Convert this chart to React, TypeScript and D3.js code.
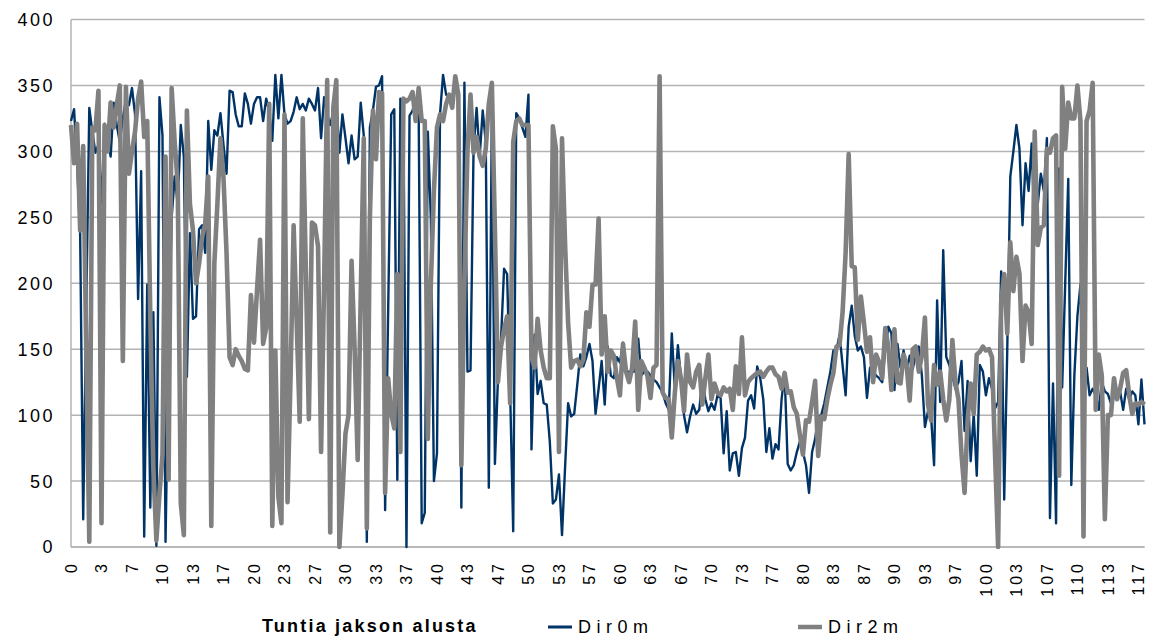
import React from 'react';
import * as d3 from 'd3';

// Dir0m (20-min steps, index 0..352)
const dir0m: number[] = [
  323, 332, 291, 238, 21, 180, 333, 315, 299, 305,
  260, 321, 310, 296, 337, 320, 307, 325, 339, 335,
  348, 328, 188, 285, 8, 199, 30, 178, 1, 341,
  312, 4, 150, 250, 281, 260, 320, 296, 129, 238,
  173, 175, 241, 244, 223, 323, 286, 316, 312, 329,
  305, 283, 346, 345, 328, 319, 319, 344, 336, 321,
  336, 341, 341, 323, 340, 330, 308, 358, 325, 358,
  328, 321, 323, 330, 341, 332, 336, 331, 340, 336,
  331, 348, 310, 341, 328, 320, 330, 340, 299, 328,
  310, 291, 312, 294, 296, 337, 312, 4, 318, 331,
  349, 350, 357, 28, 180, 328, 332, 51, 340, 330,
  0, 327, 331, 340, 330, 18, 26, 315, 249, 50,
  71, 328, 358, 343, 341, 337, 356, 341, 30, 352,
  133, 134, 302, 333, 296, 331, 307, 45, 331, 63,
  128, 157, 211, 207, 117, 12, 329, 325, 318, 311,
  343, 74, 161, 116, 126, 109, 108, 80, 33, 36,
  55, 9, 60, 109, 99, 101, 123, 146, 137, 144,
  154, 141, 101, 120, 141, 108, 152, 130, 128, 144,
  140, 155, 133, 133, 133, 133, 158, 130, 133, 133,
  130, 127, 125, 121, 117, 109, 104, 162, 120, 153,
  128, 100, 87, 99, 108, 101, 104, 126, 112, 103,
  109, 104, 115, 113, 71, 103, 58, 71, 72, 54,
  75, 83, 111, 115, 105, 137, 128, 112, 72, 90,
  67, 78, 74, 112, 132, 63, 58, 62, 72, 80,
  72, 62, 41, 72, 82, 99, 100, 109, 121, 133,
  149, 149, 161, 138, 115, 167, 183, 160, 149, 152,
  144, 113, 136, 133, 130, 128, 125, 150, 167, 162,
  119, 154, 136, 149, 133, 145, 135, 146, 152, 130,
  91, 103, 100, 62, 187, 110, 225, 144, 138, 130,
  120, 125, 141, 88, 126, 65, 101, 54, 138, 133,
  115, 128, 120, 105, 110, 209, 36, 150, 281, 300,
  320, 302, 244, 291, 270, 306, 236, 260, 283, 270,
  310, 22, 124, 18, 287, 121, 200, 279, 47, 130,
  175, 199, 130, 136, 115, 120, 115, 104, 125, 118,
  116, 109, 115, 112, 118, 104, 120, 112, 118, 115,
  93, 127, 93,
];

// Dir2m (same time steps)
const dir2m: number[] = [
  320, 291, 321, 240, 304, 150, 4, 318, 316, 346,
  18, 320, 300, 337, 318, 335, 350, 141, 349, 283,
  300, 315, 340, 353, 311, 323, 175, 60, 5, 40,
  70, 296, 51, 348, 307, 275, 33, 9, 331, 260,
  240, 200, 215, 235, 245, 281, 16, 215, 260, 310,
  280, 223, 144, 138, 150, 145, 141, 135, 134, 191,
  155, 195, 233, 154, 166, 336, 16, 149, 38, 18,
  328, 34, 130, 244, 170, 95, 325, 210, 97, 246,
  244, 228, 72, 200, 354, 11, 333, 354, 0, 40,
  86, 100, 217, 150, 66, 190, 310, 14, 250, 331,
  294, 345, 344, 41, 128, 101, 90, 207, 72, 340,
  338, 340, 345, 323, 348, 323, 323, 82, 200, 270,
  318, 328, 323, 336, 343, 333, 357, 343, 62, 200,
  300, 343, 299, 311, 296, 289, 302, 336, 352, 240,
  125, 152, 165, 175, 109, 307, 323, 325, 320, 320,
  320, 144, 136, 173, 149, 136, 128, 128, 319, 302,
  72, 310, 230, 170, 136, 141, 142, 137, 142, 178,
  167, 199, 199, 249, 146, 175, 133, 149, 145, 128,
  115, 154, 133, 125, 136, 171, 104, 141, 136, 130,
  113, 136, 138, 357, 117, 113, 112, 83, 117, 141,
  128, 103, 146, 125, 121, 133, 138, 108, 128, 146,
  112, 124, 117, 115, 121, 118, 120, 104, 137, 116,
  159, 115, 125, 128, 130, 132, 133, 129, 133, 136,
  136, 131, 129, 120, 132, 117, 118, 106, 101, 85,
  70, 96, 95, 110, 126, 69, 99, 97, 112, 123,
  132, 152, 153, 178, 223, 298, 213, 212, 157, 190,
  170, 148, 159, 125, 146, 140, 128, 166, 152, 119,
  165, 125, 124, 146, 138, 111, 150, 152, 133, 145,
  174, 108, 96, 138, 123, 133, 112, 96, 112, 157,
  125, 112, 70, 41, 96, 124, 101, 146, 148, 152,
  149, 150, 144, 70, 0, 186, 207, 162, 231, 194,
  220, 207, 141, 183, 178, 154, 315, 229, 242, 244,
  302, 299, 310, 312, 54, 349, 302, 337, 325, 325,
  350, 323, 8, 323, 331, 352, 104, 146, 130, 21,
  100, 100, 128, 112, 120, 132, 134, 115, 101, 109,
  108, 110, 108,
];

const xTickLabels: string[] = [
  '0', '3', '7', '10', '13', '17', '20', '23', '27', '30', '33', '37',
  '40', '43', '47', '50', '53', '57', '60', '63', '67', '70', '73', '77',
  '80', '83', '87', '90', '93', '97', '100', '103', '107', '110', '113', '117',
];
const yTicks: number[] = [0, 50, 100, 150, 200, 250, 300, 350, 400];
const seriesNames: string[] = ['Dir0m', 'Dir2m'];
const axisTitle = 'Tuntia jakson alusta';
const labelEvery = 10;

const NAVY = '#003366';
const GRAY = '#808080';
const GRID = '#b3b3b3';
const FONT = "'Liberation Sans', Arial, sans-serif";

export default function App() {
  const W = 1150;
  const H = 636;
  const n = Math.max(dir0m.length, dir2m.length);
  const x = d3.scaleLinear().domain([0, n - 1]).range([71, 1144.5]);
  const y = d3.scaleLinear().domain([0, 400]).range([547, 19.5]);
  const line = d3
    .line<number>()
    .x((_, i) => x(i))
    .y((d) => y(d));

  return (
    <svg
      width={W}
      height={H}
      style={{ position: 'absolute', left: 0, top: 0, background: '#fff' }}
      fontFamily={FONT}
    >
      {/* grid */}
      {yTicks.map((t) => (
        <line
          key={'g' + t}
          x1={x(0)}
          x2={x(n - 1)}
          y1={y(t)}
          y2={y(t)}
          stroke={GRID}
          strokeWidth={1.5}
        />
      ))}
      {/* axes */}
      <line x1={x(0)} x2={x(0)} y1={y(400)} y2={y(0)} stroke={GRID} strokeWidth={1.5} />
      <line x1={x(0)} x2={x(n - 1)} y1={y(0)} y2={y(0)} stroke={GRID} strokeWidth={1.5} />

      {/* y labels */}
      {yTicks.map((t) => (
        <text
          key={'yl' + t}
          x={55}
          y={y(t)}
          dy="0.36em"
          textAnchor="end"
          fontSize={18}
          letterSpacing={2.5}
          fill="#000"
        >
          {String(t)}
        </text>
      ))}

      {/* x labels */}
      {xTickLabels.map((lab, k) => {
        const xi = x(k * labelEvery);
        return (
          <text
            key={'xl' + k}
            transform={`translate(${xi},${561}) rotate(-90)`}
            textAnchor="end"
            dy="0.36em"
            fontSize={16}
            letterSpacing={3}
            fill="#000"
          >
            {lab}
          </text>
        );
      })}

      {/* series */}
      <path
        d={line(dir0m) || ''}
        fill="none"
        stroke={NAVY}
        strokeWidth={2.4}
        strokeLinejoin="round"
      />
      <path
        d={line(dir2m) || ''}
        fill="none"
        stroke={GRAY}
        strokeWidth={4.6}
        strokeLinejoin="round"
      />

      {/* axis title + legend */}
      <text x={262} y={632} fontSize={18} fontWeight="bold" letterSpacing={2.2} fill="#000">
        {axisTitle}
      </text>
      <line x1={548} x2={572} y1={627} y2={627} stroke={NAVY} strokeWidth={3} />
      <text x={578} y={633} fontSize={18} letterSpacing={5.5} fill="#000">
        {seriesNames[0]}
      </text>
      <line x1={798} x2={822} y1={627} y2={627} stroke={GRAY} strokeWidth={4.5} />
      <text x={828} y={633} fontSize={18} letterSpacing={5.5} fill="#000">
        {seriesNames[1]}
      </text>
    </svg>
  );
}
